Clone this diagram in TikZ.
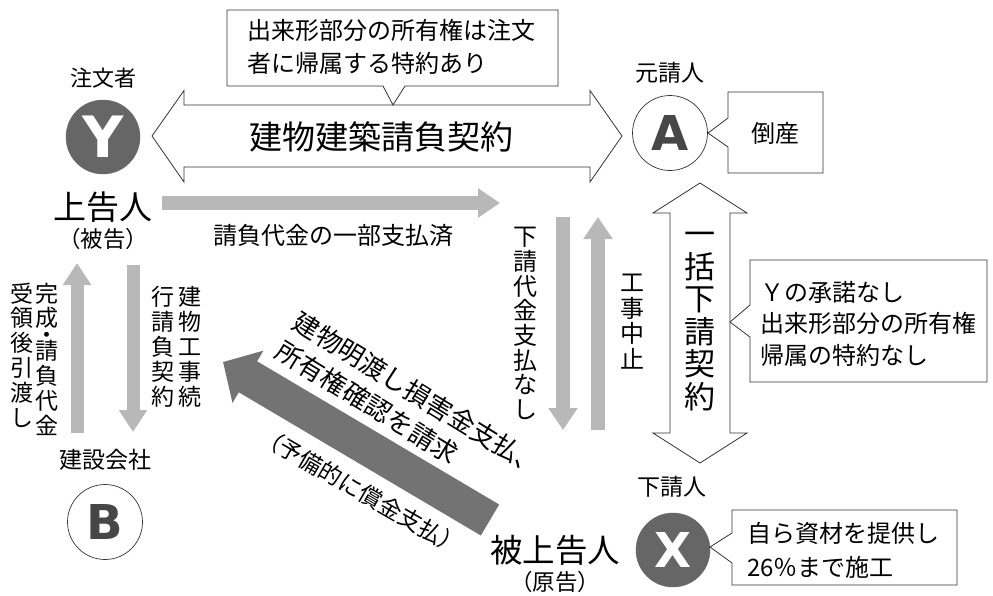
\documentclass[tikz,border=0pt]{standalone}
\usepackage{fontspec}
\setmainfont{Noto Sans CJK JP}
\newfontfamily\latb{DejaVu Sans}
\usetikzlibrary{arrows.meta}
\definecolor{darkfill}{gray}{0.40}
\definecolor{arrdark}{gray}{0.45}
\definecolor{arrlight}{gray}{0.72}
\definecolor{letterdark}{gray}{0.28}
\tikzset{
  vt/.style 2 args={align=center, inner sep=0pt, font=\fontsize{#1}{#2}\selectfont},
  lbl/.style={inner sep=0pt, font=\fontsize{#1}{#1}\selectfont},
  boxtext/.style 2 args={align=left, anchor=west, inner sep=0pt, font=\fontsize{#1}{#2}\selectfont},
  darkcirc/.style={circle, fill=darkfill, draw=darkfill, minimum size=74pt, inner sep=0pt},
  whitecirc/.style={circle, fill=white, draw=black!80, line width=0.7pt, minimum size=75pt, inner sep=0pt},
  bigletter/.style={font=\latb\bfseries\fontsize{#1}{#1}\selectfont},
  bigarr/.style={draw=black!80, fill=white, line width=0.8pt, line join=miter},
  callout/.style={draw=black!80, fill=white, line width=0.8pt},
  garrow/.style={draw=arrlight, line width=14pt, -{Triangle[width=28pt,length=22pt]}},
  darrow/.style={draw=arrdark, line width=36pt, -{Triangle[width=59pt,length=29pt]}},
}
\begin{document}
\begin{tikzpicture}[x=1pt, y=-1pt]
\useasboundingbox (0,0) rectangle (993,595);
\fill[white] (0,0) rectangle (993,595);

% ---- big white double arrows ----
\draw[bigarr] (152,136) -- (184,90.5) -- (184,105) -- (590,105) -- (590,90.5) -- (622,136)
  -- (590,182) -- (590,167) -- (184,167) -- (184,182) -- cycle;
\node[lbl=33] (contract) at (381,137) {建物建築請負契約};

\draw[bigarr] (700,183) -- (747,213) -- (730,213) -- (730,433) -- (747,433) -- (700,463)
  -- (653,433) -- (670,433) -- (670,213) -- (653,213) -- cycle;
\node[vt={31}{32.6}] (sub) at (700,321.5) {一\\括\\下\\請\\契\\約};

% ---- parties ----
\node[darkcirc] (Y) at (103,137) {};
\node[bigletter=57, text=white] (Yl) at (Y) {Y};
\node[lbl=22] (Ylab) at (103,78) {注文者};
\node[lbl=33] (Yrole) at (103,207) {上告人};
\node[lbl=22.5] (Yrole2) at (103,239) {（被告）};

\node[whitecirc] (A) at (670,133) {};
\node[bigletter=48, text=letterdark] (Al) at (A) {A};
\node[lbl=23] (Alab) at (670,73) {元請人};

\node[whitecirc] (B) at (105,522) {};
\node[bigletter=48, text=letterdark] (Bl) at (B) {B};
\node[lbl=23] (Blab) at (105,460) {建設会社};

\node[darkcirc] (X) at (673,550) {};
\node[bigletter=48, text=white] (Xl) at (X) {X};
\node[lbl=23] (Xlab) at (672,487) {下請人};
\node[lbl=32.5] (Xrole) at (555,550) {被上告人};
\node[lbl=22.5] (Xrole2) at (555,582) {（原告）};

% ---- callouts ----
\draw[callout] (227,10) -- (558,10) -- (558,86) -- (405,86) -- (393,105) -- (383,86) -- (227,86) -- cycle;
\node[boxtext={24}{33}] (c1) at (247,46.5) {出来形部分の所有権は注文\\者に帰属する特約あり};

\draw[callout] (728,92) -- (823,92) -- (823,173) -- (728,173) -- (728,147) -- (708,133) -- (728,118) -- cycle;
\node[lbl=24] (c2) at (775,133) {倒産};

\draw[callout] (750,260) -- (987,260) -- (987,382) -- (750,382) -- (750,337) -- (730,322) -- (750,305) -- cycle;
\node[boxtext={24}{31.5}] (c3) at (760,323.5) {Ｙの承諾なし\\出来形部分の所有権\\帰属の特約なし};

\draw[callout] (732,510) -- (957,510) -- (957,585) -- (732,585) -- (732,563) -- (710,547) -- (732,533) -- cycle;
\node[boxtext={24}{34}] (c4) at (747,550) {自ら資材を提供し\\26％まで施工};

% ---- light gray arrows ----
\coordinate (pa1) at (162,203);
\coordinate (pa2) at (500,203);
\draw[garrow] (pa1) -- (pa2);
\node[lbl=24] (paid) at (333,235) {請負代金の一部支払済};

\coordinate (d1) at (563,217);
\coordinate (d2) at (563,430);
\draw[garrow] (d1) -- (d2);
\node[vt={24}{24.7}] (nopay) at (525,323.5) {下\\請\\代\\金\\支\\払\\な\\し};

\coordinate (u1) at (598,430);
\coordinate (u2) at (598,217);
\draw[garrow] (u1) -- (u2);
\node[vt={24}{25.7}] (stop) at (632,321.5) {工\\事\\中\\止};

\coordinate (yb1) at (77,433);
\coordinate (yb2) at (77,263);
\draw[garrow, line width=13pt, -{Triangle[width=27pt,length=22pt]}] (yb1) -- (yb2);
\coordinate (yb3) at (133,265);
\coordinate (yb4) at (133,432);
\draw[garrow, line width=13pt, -{Triangle[width=27pt,length=22pt]}] (yb3) -- (yb4);

\node[vt={23}{24.8}] (comp) at (47,359) {完\\成\\[-8.3pt]・\\[-8.3pt]請\\負\\代\\金};
\node[vt={23}{24.8}] (recv) at (22,355) {受\\領\\後\\引\\渡\\し};
\node[vt={23}{25}] (cont1) at (190,347) {建\\物\\工\\事\\続};
\node[vt={23}{25}] (cont2) at (163,347) {行\\請\\負\\契\\約};

% ---- dark claim arrow ----
\coordinate (cl1) at (490,520);
\coordinate (cl2) at (223,362);
\draw[darrow] (cl1) -- (cl2);
\node[lbl=26, rotate=-31.5] (claim1) at (418,394) {建物明渡し損害金支払、};
\node[lbl=26, rotate=-31.5] (claim2) at (367.5,402.5) {所有権確認を請求};
\node[lbl=23, rotate=-30] (claim3) at (361,491) {（予備的に償金支払）};
\end{tikzpicture}
\end{document}
